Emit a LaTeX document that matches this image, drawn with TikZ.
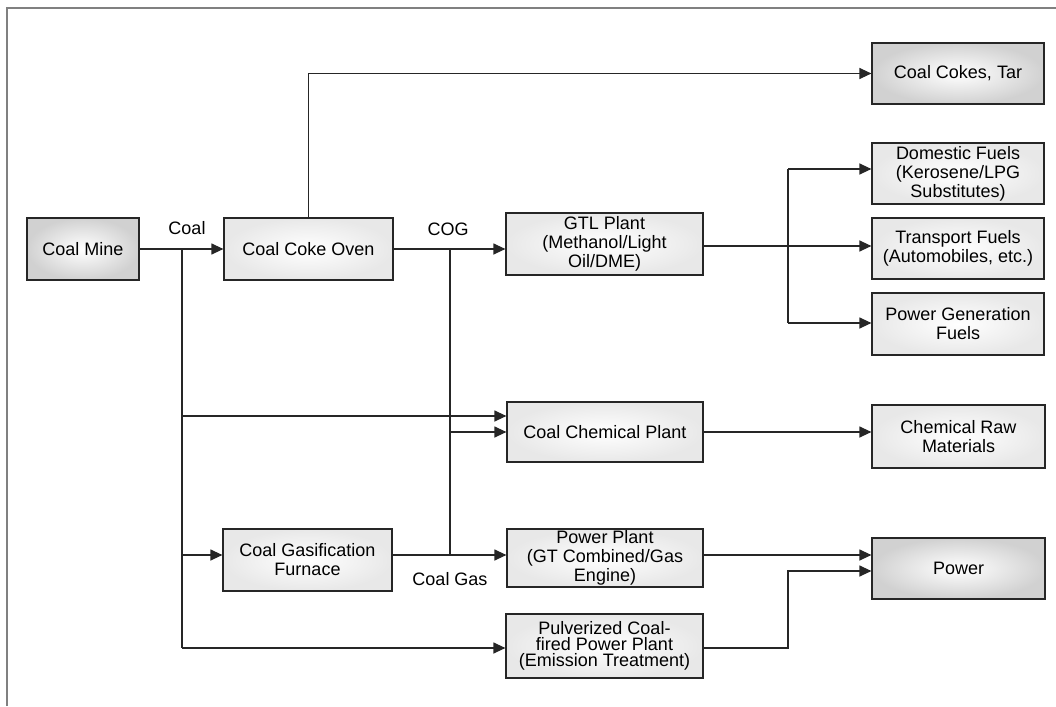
\documentclass[tikz,border=0pt]{standalone}
\usepackage{fontspec}
\setmainfont{Liberation Sans}
\usetikzlibrary{arrows.meta,shadows}
\begin{document}
\begin{tikzpicture}[x=1pt,y=-1pt,
  box/.style={draw=black!85, line width=1.2pt, inner color=white, outer color=black!9,
    align=center, font=\fontsize{18}{19}\selectfont, inner sep=0pt,
    drop shadow={shadow xshift=1.2pt, shadow yshift=-1.2pt, fill=black!45, opacity=0.6}},
  darkbox/.style={box, inner color=white, outer color=black!18},
  link/.style={line width=1.2pt, draw=black!85},
  arr/.style={link, -{Triangle[length=12pt,width=11pt]}},
  lbl/.style={font=\fontsize{18}{19}\selectfont, inner sep=0pt}]
\useasboundingbox (0,0) rectangle (1056,706);
\draw[black!50, line width=1.5pt] (7,706) -- (7,8) -- (1056,8);

% boxes
\node[darkbox, minimum width=112pt, minimum height=62pt] (mine) at (83,249) {Coal Mine};
\node[box, minimum width=169pt, minimum height=62pt] (oven) at (308.5,249) {Coal Coke Oven};
\node[box, minimum width=197pt, minimum height=62pt] (gtl) at (604.5,244) {GTL Plant\\(Methanol/Light\\Oil/DME)};
\node[darkbox, minimum width=172pt, minimum height=61pt] (cokes) at (958,73.5) {Coal Cokes, Tar};
\node[box, minimum width=172pt, minimum height=61pt] (dom) at (958,173.5) {Domestic Fuels\\(Kerosene/LPG\\Substitutes)};
\node[box, minimum width=172pt, minimum height=61pt] (trans) at (958,248.5) {Transport Fuels\\(Automobiles, etc.)};
\node[box, minimum width=172pt, minimum height=62pt] (pgf) at (958,324) {Power Generation\\Fuels};
\node[box, minimum width=196pt, minimum height=60pt] (chem) at (605,432) {Coal Chemical Plant};
\node[box, minimum width=173pt, minimum height=63pt] (raw) at (958.5,436.5) {Chemical Raw\\Materials};
\node[box, minimum width=169pt, minimum height=62pt] (gasf) at (307.5,560) {Coal Gasification\\Furnace};
\node[box, minimum width=196pt, minimum height=58pt] (pp) at (605,558) {Power Plant\\(GT Combined/Gas\\Engine)};
\node[box, minimum width=197pt, minimum height=64pt, font=\fontsize{18}{16}\selectfont] (pulv) at (604.5,646) {Pulverized Coal-\\fired Power Plant\\(Emission Treatment)};
\node[darkbox, minimum width=173pt, minimum height=61pt] (power) at (958.5,568.5) {Power};

% labels
\node[lbl] (lcoal) at (187,228) {Coal};
\node[lbl] (lcog) at (448,229) {COG};
\node[lbl] (lgas) at (450,579) {Coal Gas};

% coal trunk
\coordinate (ct) at (182,249);
\coordinate (cchem) at (182,416);
\coordinate (cgas) at (182,555);
\coordinate (cpulv) at (182,648);
\draw[arr] (mine.east) -- (oven.west);
\draw[link] (ct) -- (cpulv);
\draw[arr] (cchem) -- (cchem -| chem.west);
\draw[arr] (cgas) -- (cgas -| gasf.west);
\draw[arr] (cpulv) -- (cpulv -| pulv.west);

% COG
\coordinate (gt) at (450,249);
\coordinate (gchem) at (450,432);
\coordinate (gb) at (450,555);
\draw[arr] (oven.east) -- (oven.east -| gtl.west);
\draw[link] (gt) -- (gb);
\draw[arr] (gchem) -- (gchem -| chem.west);
\draw[arr] (gb -| gasf.east) -- (gb -| pp.west);

% coke oven to cokes
\draw[arr] (oven.north) |- (cokes.west);

% GTL outputs
\coordinate (fj) at (788,246);
\coordinate (ftop) at (788,169);
\coordinate (fbot) at (788,323);
\draw[arr] (fj -| gtl.east) -- (fj -| trans.west);
\draw[link] (ftop) -- (fbot);
\draw[arr] (ftop) -- (ftop -| dom.west);
\draw[arr] (fbot) -- (fbot -| pgf.west);

% chemical
\draw[arr] (chem.east) -- (chem.east -| raw.west);

% power
\coordinate (pa) at (788,555);
\coordinate (pb) at (788,571);
\coordinate (pc) at (788,648);
\draw[arr] (pa -| pp.east) -- (pa -| power.west);
\draw[arr] (pc -| pulv.east) -- (pc) -- (pb) -- (pb -| power.west);
\end{tikzpicture}
\end{document}
